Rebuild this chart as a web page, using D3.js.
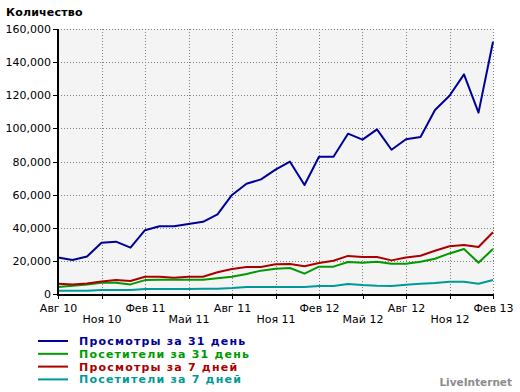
<!DOCTYPE html>
<html><head><meta charset="utf-8">
<script src="https://cdn.jsdelivr.net/npm/d3@7"></script>
<style>body{margin:0;background:#fff;}svg{display:block;font-family:"DejaVu Sans",sans-serif;}</style>
</head><body>
<svg id="c" width="520" height="392"></svg>
<script>
const months = ["2010-08","2010-09","2010-10","2010-11","2010-12","2011-01","2011-02","2011-03","2011-04","2011-05","2011-06","2011-07","2011-08","2011-09","2011-10","2011-11","2011-12","2012-01","2012-02","2012-03","2012-04","2012-05","2012-06","2012-07","2012-08","2012-09","2012-10","2012-11","2012-12","2013-01","2013-02"];
const views31 = [22100,20500,22600,31000,31600,28000,38500,40900,40900,42300,43600,48100,59800,66600,69200,75100,79900,65800,82900,82900,96800,93200,99400,87100,93400,94800,111100,119700,132600,109500,152300];
const visitors31 = [4200,5000,5800,6800,6800,5800,8400,8600,8600,8600,8650,9460,10460,12100,14100,15300,15700,12300,16500,16500,19300,18900,19500,18300,18300,19500,21300,24500,27200,18900,27200];
const views7 = [6200,5800,6400,7600,8400,7800,10400,10400,9800,10400,10400,13100,15100,16300,16300,17900,18100,16700,18700,20100,23000,22300,22300,20300,22100,23100,26100,28800,29600,28400,37300];
const visitors7 = [2000,2000,2000,2400,2400,2400,3000,3000,3000,3000,3200,3200,3600,4200,4200,4200,4200,4200,4800,4800,6100,5400,5000,4800,5600,6200,6600,7400,7400,6200,8400];
const xTickLabels = ["Авг 10","Ноя 10","Фев 11","Май 11","Авг 11","Ноя 11","Фев 12","Май 12","Авг 12","Ноя 12","Фев 13"];
const yTicks = [0,20000,40000,60000,80000,100000,120000,140000,160000];
const seriesNames = ["Просмотры за 31 день","Посетители за 31 день","Просмотры за 7 дней","Посетители за 7 дней"];
const seriesColors = ["#000099","#009900","#aa0000","#009999"];
const yTitle = "Количество";
const brand = "LiveInternet";

const series = [views31, visitors31, views7, visitors7];
const svg = d3.select("#c");
const L = 58, R = 493, T = 29, B = 294;
const x = d3.scaleLinear().domain([0, months.length - 1]).range([L, R]);
const y = d3.scaleLinear().domain([0, 160000]).range([B, T]);
const tickIdx = xTickLabels.map((d, i) => i * 3);

svg.append("rect").attr("x", L).attr("y", T).attr("width", R - L).attr("height", B - T).attr("fill", "#f4f4f4");

// grid
const grid = svg.append("g").attr("stroke", "#808080").attr("stroke-dasharray", "1,2").attr("shape-rendering", "crispEdges");
yTicks.filter(d => d > 0).forEach(v => {
  grid.append("line").attr("x1", L).attr("x2", R + 1).attr("y1", Math.round(y(v)) + 0.5).attr("y2", Math.round(y(v)) + 0.5);
});
tickIdx.filter(d => d > 0).forEach(i => {
  grid.append("line").attr("x1", Math.round(x(i)) + 0.5).attr("x2", Math.round(x(i)) + 0.5).attr("y1", T).attr("y2", B);
});

// lines
const line = d3.line().x((d, i) => x(i)).y(d => y(d));
[3, 1, 2, 0].forEach(k => {
  svg.append("path").datum(series[k]).attr("d", line).attr("fill", "none")
    .attr("stroke", seriesColors[k]).attr("stroke-width", 2).attr("stroke-linejoin", "round");
});

// y axis
const ya = svg.append("g").attr("transform", `translate(${L},0)`)
  .call(d3.axisLeft(y).tickValues(yTicks).tickSize(5).tickPadding(2).tickFormat(d3.format(",")));
ya.select(".domain").remove();
ya.selectAll("text").attr("font-size", "11px").attr("font-family", "DejaVu Sans").attr("fill", "#000");
ya.selectAll("line").attr("stroke", "#000").attr("shape-rendering", "crispEdges");
svg.append("rect").attr("x", L - 1).attr("y", T).attr("width", 2).attr("height", B - T + 2).attr("fill", "#000");

// x axis
const xa = svg.append("g").attr("transform", `translate(0,${B + 1})`)
  .call(d3.axisBottom(x).tickValues(tickIdx).tickSize(4).tickFormat((d, i) => xTickLabels[i]));
xa.select(".domain").remove();
xa.selectAll("line").attr("stroke", "#000").attr("shape-rendering", "crispEdges");
xa.selectAll("text").attr("font-size", "11px").attr("font-family", "DejaVu Sans").attr("fill", "#000")
  .attr("y", (d, i) => i % 2 === 0 ? 9 : 20);
svg.append("rect").attr("x", L - 1).attr("y", B).attr("width", R - L + 2).attr("height", 2).attr("fill", "#000");

// title
svg.append("text").attr("x", 6).attr("y", 16).attr("font-size", "11px").attr("font-weight", "bold").attr("letter-spacing", "0.2px").text(yTitle);

// legend
const lg = svg.append("g");
seriesNames.forEach((n, i) => {
  const yy = 341 + i * 12.8;
  lg.append("line").attr("x1", 38).attr("x2", 68).attr("y1", yy).attr("y2", yy).attr("stroke", seriesColors[i]).attr("stroke-width", 2);
  lg.append("text").attr("x", 79).attr("y", yy + 4).attr("font-size", "11px").attr("font-weight", "bold").attr("letter-spacing", "1.2px").attr("fill", seriesColors[i]).text(n);
});
svg.append("text").attr("x", 512).attr("y", 386).attr("text-anchor", "end").attr("font-size", "10.5px").attr("font-weight", "bold").attr("fill", "#8c8c8c").text(brand);
</script>
</body></html>
